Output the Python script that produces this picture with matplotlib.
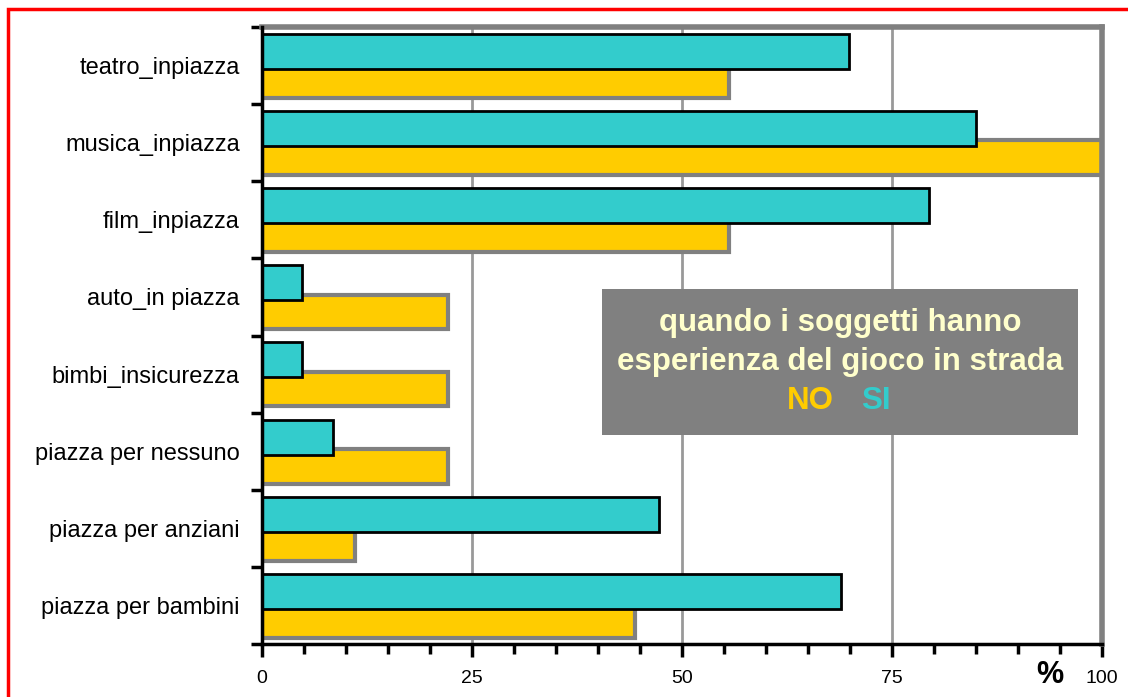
import numpy as np
import matplotlib.pyplot as plt
from matplotlib.patches import Rectangle

categories = ['teatro_inpiazza', 'musica_inpiazza', 'film_inpiazza', 'auto_in piazza',
              'bimbi_insicurezza', 'piazza per nessuno', 'piazza per anziani', 'piazza per bambini']
si_values = [69.9, 85.0, 79.4, 4.8, 4.8, 8.5, 47.3, 68.9]
no_values = [55.6, 100.0, 55.6, 22.2, 22.2, 22.2, 11.1, 44.4]
x_ticks = [0, 25, 50, 75, 100]

TEAL = '#33CCCC'
GOLD = '#FFCC00'
GREY = '#808080'
narrow = ['Liberation Sans Narrow', 'Liberation Sans', 'DejaVu Sans']
bold_font = ['Liberation Sans', 'DejaVu Sans']

fig = plt.figure(figsize=(11.28, 6.97), dpi=100)
ax = fig.add_axes([262 / 1128, 1 - 644 / 697, 840 / 1128, 617 / 697])

y = np.arange(len(categories))
# gold (NO) bars underneath, teal (SI) bars on top
ax.barh(y + 0.195, no_values, height=0.45, color=GOLD, edgecolor=GREY, linewidth=3, zorder=2)
ax.barh(y - 0.183, si_values, height=0.455, color=TEAL, edgecolor='black', linewidth=2, zorder=3)

ax.set_xlim(0, 100)
ax.set_ylim(len(categories) - 0.5, -0.5)

for v in [25, 50, 75]:
    ax.axvline(v, color='#999999', linewidth=2, zorder=1)

# frame
for side in ['top', 'right']:
    ax.spines[side].set_color(GREY)
    ax.spines[side].set_linewidth(4)
for side in ['left', 'bottom']:
    ax.spines[side].set_color('black')
    ax.spines[side].set_linewidth(2.5)
    ax.spines[side].set_zorder(4)

# y ticks at category boundaries, labels at centres
ax.set_yticks(np.arange(len(categories) + 1) - 0.5)
ax.set_yticklabels([])
ax.set_yticks(y, minor=True)
ax.set_yticklabels(categories, minor=True, fontsize=17, family=narrow)
ax.tick_params(axis='y', which='major', length=8, width=2.5, direction='out')
ax.tick_params(axis='y', which='minor', length=0, pad=16)

ax.set_xticks(x_ticks)
ax.set_xticklabels([str(t) for t in x_ticks], fontsize=14, family=narrow)
ax.set_xticks(np.arange(0, 101, 5), minor=True)
ax.tick_params(axis='x', which='major', length=9, width=2.5, direction='out', pad=10)
ax.tick_params(axis='x', which='minor', length=7, width=2.5, direction='out')

fig.text(1050 / 1128, 1 - 675 / 697, '%', fontsize=22, fontweight='bold', family=bold_font,
         ha='center', va='center')

# legend box
box = Rectangle((602 / 1128, 1 - 435 / 697), 476 / 1128, 146 / 697, transform=fig.transFigure,
                facecolor=GREY, edgecolor='none', zorder=5)
fig.patches.append(box)
cx = 840 / 1128
fig.text(cx, 1 - 323 / 697, 'quando i soggetti hanno', fontsize=22.5, fontweight='bold',
         family=bold_font, color='#FFFFCC', ha='center', va='center', zorder=6)
fig.text(cx, 1 - 362 / 697, 'esperienza del gioco in strada', fontsize=22.5, fontweight='bold',
         family=bold_font, color='#FFFFCC', ha='center', va='center', zorder=6)
fig.text(810 / 1128, 1 - 401 / 697, 'NO', fontsize=22.5, fontweight='bold',
         family=bold_font, color=GOLD, ha='center', va='center', zorder=6)
fig.text(876 / 1128, 1 - 401 / 697, 'SI', fontsize=22.5, fontweight='bold',
         family=bold_font, color=TEAL, ha='center', va='center', zorder=6)

# red outer border
border = Rectangle((8 / 1128, -0.05), 1.1, 1 - 9 / 697 + 0.05, transform=fig.transFigure,
                   facecolor='none', edgecolor='red', linewidth=2.5, clip_on=False)
fig.patches.append(border)

fig.savefig('out.png', dpi=100)
